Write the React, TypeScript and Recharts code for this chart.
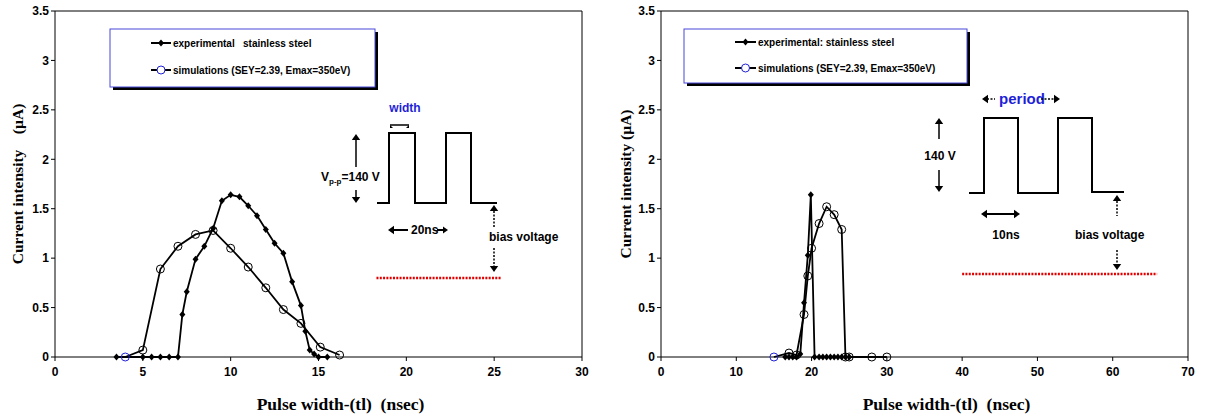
import { LineChart, Line, XAxis, YAxis, ReferenceLine } from "recharts";

// left panel: 20 ns period
const leftExpX = [3.5, 5, 5.5, 6, 6.5, 7, 7.25, 7.5, 8, 8.5, 9, 9.5, 10, 10.5, 11, 11.5, 12, 12.5, 13, 13.5, 14, 14.25, 14.5, 14.75, 15, 15.5];
const leftExpY = [0, 0, 0, 0, 0, 0, 0.43, 0.66, 0.99, 1.12, 1.3, 1.58, 1.64, 1.62, 1.53, 1.43, 1.29, 1.15, 1.05, 0.76, 0.52, 0.26, 0.07, 0.03, 0, 0];
const leftSimX = [4, 5, 6, 7, 8, 9, 10, 11, 12, 13, 14, 15.1, 16.2];
const leftSimY = [0, 0.07, 0.89, 1.12, 1.24, 1.28, 1.1, 0.91, 0.7, 0.48, 0.34, 0.1, 0.02];

// right panel: 10 ns width
const rightExpX = [16.5, 17, 17.5, 18, 18.5, 19, 19.5, 19.9, 20.4, 21, 21.5, 22, 22.5, 23, 23.5, 24, 24.5, 25];
const rightExpY = [0, 0, 0, 0, 0.03, 0.55, 1.03, 1.64, 0, 0, 0, 0, 0, 0, 0, 0, 0, 0];
const rightSimX = [15, 17, 18, 19, 19.5, 20, 21, 22, 23, 24, 24.5, 25, 28, 30];
const rightSimY = [0, 0.04, 0.02, 0.43, 0.82, 1.1, 1.35, 1.52, 1.44, 1.29, 0, 0, 0, 0];

const yTicks = [0, 0.5, 1, 1.5, 2, 2.5, 3, 3.5];
const leftXTicks = [0, 5, 10, 15, 20, 25, 30];
const rightXTicks = [0, 10, 20, 30, 40, 50, 60, 70];

const zip = (xs: number[], ys: number[]) => xs.map((x, i) => ({ x, y: ys[i] }));

const SANS = "'Liberation Sans', Arial, sans-serif";
const SERIF = "'Liberation Serif', 'Times New Roman', serif";
const BLUE = "#1f1fd8";

const tickStyle = { fontFamily: SANS, fontWeight: 700, fontSize: 12, fill: "#000" };
const titleStyle: any = { fontFamily: SERIF, fontWeight: 700, fontSize: 15.5, fill: "#000", whiteSpace: "pre" };

const diamond = (p: any) => {
  const { cx, cy, index } = p;
  if (cx == null || cy == null) return <g key={index} />;
  return <path key={index} d={`M${cx},${cy - 3.5}L${cx + 3},${cy}L${cx},${cy + 3.5}L${cx - 3},${cy}Z`} fill="#000" />;
};

const ring = (p: any) => {
  const { cx, cy, index } = p;
  if (cx == null || cy == null) return <g key={index} />;
  return <circle key={index} cx={cx} cy={cy} r={4} fill="none" stroke={index === 0 ? BLUE : "#000"} strokeWidth={1} />;
};

const YTitle = (props: any) => {
  const { viewBox, value, dx } = props;
  const cx = viewBox.x + dx;
  const cy = viewBox.y + viewBox.height / 2;
  return (
    <text x={cx} y={cy} transform={`rotate(-90 ${cx} ${cy})`} textAnchor="middle" dominantBaseline="central" xmlSpace="preserve" style={titleStyle}>
      {value}
    </text>
  );
};

const Arrow = ({ x, y, dir, size = 5 }: any) => {
  // small filled arrowhead, tip at (x, y)
  const s = size;
  let d = "";
  if (dir === "up") d = `M${x},${y}L${x - s * 0.7},${y + s}L${x + s * 0.7},${y + s}Z`;
  if (dir === "down") d = `M${x},${y}L${x - s * 0.7},${y - s}L${x + s * 0.7},${y - s}Z`;
  if (dir === "left") d = `M${x},${y}L${x + s},${y - s * 0.7}L${x + s},${y + s * 0.7}Z`;
  if (dir === "right") d = `M${x},${y}L${x - s},${y - s * 0.7}L${x - s},${y + s * 0.7}Z`;
  return <path d={d} fill="#000" />;
};

const LegendBox = ({ x, y, w, h, lx1, lx2, rows }: any) => (
  <g>
    <rect x={x + 3} y={y + 3} width={w} height={h} fill="#000" />
    <rect x={x} y={y} width={w} height={h} fill="#fff" stroke="#4848d8" strokeWidth={1} />
    {rows.map((r: any, i: number) => (
      <g key={i}>
        <line x1={lx1} x2={lx2} y1={r.y} y2={r.y} stroke="#000" strokeWidth={2} />
        {r.kind === "d" ? (
          <path d={`M${(lx1 + lx2) / 2},${r.y - 3.5}l3,3.5l-3,3.5l-3,-3.5Z`} fill="#000" />
        ) : (
          <circle cx={(lx1 + lx2) / 2} cy={r.y} r={4} fill="#fff" stroke={BLUE} strokeWidth={1} />
        )}
        <text x={lx2 + 2} y={r.y + 4} xmlSpace="preserve" style={{ fontFamily: SANS, fontWeight: 700, fontSize: 10, whiteSpace: "pre" } as any}>
          {r.label}
        </text>
      </g>
    ))}
  </g>
);

const labelText: any = { fontFamily: SANS, fontWeight: 700, fontSize: 12, fill: "#000", whiteSpace: "pre" };

const LeftInset = () => (
  <g>
    <LegendBox
      x={110} y={29} w={265} h={58} lx1={151} lx2={171}
      rows={[
        { y: 43, kind: "d", label: "experimental   stainless steel" },
        { y: 70, kind: "c", label: "simulations (SEY=2.39, Emax=350eV)" },
      ]}
    />
    <text x={405} y={112} textAnchor="middle" style={{ ...labelText, fill: BLUE }}>width</text>
    <line x1={390} x2={409} y1={125} y2={125} stroke="#000" strokeWidth={1.5} />
    <path d="M390,125l3,3l-3,0Z" fill="#000" />
    <path d="M409,125l-3,3l3,0Z" fill="#000" />
    <polyline points="377,203 389,203 389,133 415,133 415,203 446,203 446,133 471,133 471,203 497,203" fill="none" stroke="#000" strokeWidth={2} />
    <line x1={356} x2={356} y1={139} y2={167} stroke="#000" strokeWidth={1.5} />
    <Arrow x={356} y={134} dir="up" size={6} />
    <line x1={356} x2={356} y1={190} y2={198} stroke="#000" strokeWidth={1.5} />
    <Arrow x={356} y={203} dir="down" size={6} />
    <text x={321} y={181} style={labelText}>
      V<tspan fontSize={8} dy={3}>p-p</tspan><tspan dy={-3}>=140 V</tspan>
    </text>
    <line x1={393} x2={408} y1={230} y2={230} stroke="#000" strokeWidth={2} />
    <Arrow x={388} y={230} dir="left" size={6} />
    <text x={411} y={234} style={labelText}>20ns</text>
    <line x1={437} x2={443} y1={230} y2={230} stroke="#000" strokeWidth={2} />
    <Arrow x={448} y={230} dir="right" size={5} />
    <text x={489} y={241} style={labelText}>bias voltage</text>
    <line x1={494} x2={494} y1={211} y2={227} stroke="#000" strokeWidth={1.5} strokeDasharray="2 1.5" />
    <Arrow x={494} y={205} dir="up" size={6} />
    <line x1={494} x2={494} y1={248} y2={266} stroke="#000" strokeWidth={1.5} strokeDasharray="2 1.5" />
    <Arrow x={494} y={272} dir="down" size={6} />
  </g>
);

const RightInset = () => (
  <g>
    <LegendBox
      x={84} y={29} w={283} h={54} lx1={135} lx2={156}
      rows={[
        { y: 42, kind: "d", label: "experimental: stainless steel" },
        { y: 68, kind: "c", label: "simulations (SEY=2.39, Emax=350eV)" },
      ]}
    />
    <text x={422} y={104} textAnchor="middle" style={{ ...labelText, fontSize: 15, fill: BLUE }}>period</text>
    <line x1={387} x2={395} y1={99} y2={99} stroke="#000" strokeWidth={1.5} strokeDasharray="2 1.5" />
    <Arrow x={382} y={99} dir="left" size={6} />
    <line x1={441} x2={454} y1={99} y2={99} stroke="#000" strokeWidth={1.5} strokeDasharray="2 1.5" />
    <Arrow x={460} y={99} dir="right" size={6} />
    <polyline points="369,193 384,193 384,118 418,118 418,193 458,193 458,118 492,118 492,192 524,192" fill="none" stroke="#000" strokeWidth={2} />
    <line x1={339} x2={339} y1={123} y2={139} stroke="#000" strokeWidth={1.5} />
    <Arrow x={339} y={118} dir="up" size={6} />
    <line x1={339} x2={339} y1={170} y2={187} stroke="#000" strokeWidth={1.5} />
    <Arrow x={339} y={192} dir="down" size={6} />
    <text x={340} y={160} textAnchor="middle" style={labelText}>140 V</text>
    <line x1={386} x2={415} y1={214} y2={214} stroke="#000" strokeWidth={2} />
    <Arrow x={381} y={214} dir="left" size={6} />
    <Arrow x={420} y={214} dir="right" size={6} />
    <text x={406} y={239} textAnchor="middle" style={labelText}>10ns</text>
    <text x={475} y={239} style={labelText}>bias voltage</text>
    <line x1={517} x2={517} y1={201} y2={216} stroke="#000" strokeWidth={1.5} strokeDasharray="2 1.5" />
    <Arrow x={517} y={195} dir="up" size={6} />
    <line x1={517} x2={517} y1={250} y2={264} stroke="#000" strokeWidth={1.5} strokeDasharray="2 1.5" />
    <Arrow x={517} y={270} dir="down" size={6} />
  </g>
);

const Panel = ({ width, yWidth, right, xMax, xTicks, exp, sim, yTitle, titleDx, bias, inset }: any) => (
  <div style={{ position: "relative", width, height: 417 }}>
    <LineChart width={width} height={417} margin={{ top: 11, right, bottom: 0, left: 0 }}>
      <XAxis
        type="number" dataKey="x" domain={[0, xMax]} ticks={xTicks} allowDataOverflow
        stroke="#000" tickLine={{ stroke: "#000" }} tickSize={4} tickMargin={6} tick={tickStyle} height={60}
        label={({ viewBox }: any) => (
          <text
            x={viewBox.x + viewBox.width / 2 + 22} y={viewBox.y + 53} textAnchor="middle" xmlSpace="preserve"
            style={{ ...titleStyle, fontSize: 17.5 }}
          >
            Pulse width-(tl)  (nsec)
          </text>
        )}
      />
      <YAxis
        type="number" domain={[0, 3.5]} ticks={yTicks} width={yWidth}
        stroke="#000" tickLine={{ stroke: "#000" }} tickSize={4} tickMargin={2} tick={tickStyle}
        label={<YTitle value={yTitle} dx={titleDx} />}
      />
      <ReferenceLine y={3.5} stroke="#000" strokeWidth={1} />
      <ReferenceLine x={xMax} stroke="#000" strokeWidth={1} />
      <ReferenceLine segment={bias} stroke="#e00000" strokeWidth={2.5} strokeDasharray="2 1.3" />
      <Line data={exp} dataKey="y" stroke="#000" strokeWidth={1.8} dot={diamond} isAnimationActive={false} />
      <Line data={sim} dataKey="y" stroke="#000" strokeWidth={1.8} dot={ring} isAnimationActive={false} />
    </LineChart>
    <svg width={width} height={417} style={{ position: "absolute", left: 0, top: 0, pointerEvents: "none" }}>
      {inset}
    </svg>
  </div>
);

export default function App() {
  return (
    <div style={{ position: "absolute", left: 0, top: 0, width: 1205, height: 417, background: "#fff", display: "flex" }}>
      <Panel
        width={600} yWidth={55} right={18} xMax={30} xTicks={leftXTicks}
        exp={zip(leftExpX, leftExpY)} sim={zip(leftSimX, leftSimY)}
        yTitle="Current intensity    (µA)" titleDx={17}
        bias={[{ x: 18.3, y: 0.8 }, { x: 25.4, y: 0.8 }]}
        inset={<LeftInset />}
      />
      <Panel
        width={605} yWidth={61} right={17} xMax={70} xTicks={rightXTicks}
        exp={zip(rightExpX, rightExpY)} sim={zip(rightSimX, rightSimY)}
        yTitle="Current intensity (µA)" titleDx={25}
        bias={[{ x: 40, y: 0.84 }, { x: 65.9, y: 0.84 }]}
        inset={<RightInset />}
      />
    </div>
  );
}
